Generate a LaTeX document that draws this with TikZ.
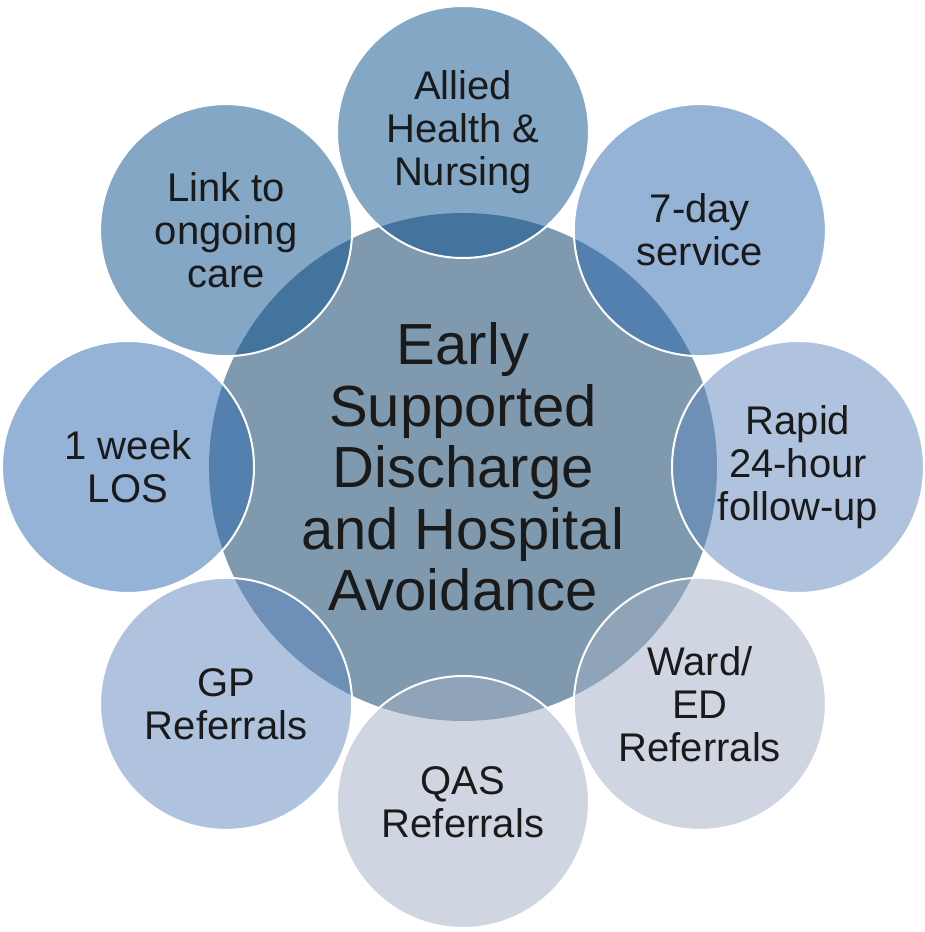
\documentclass[tikz,border=0pt]{standalone}
\usepackage{fontspec}
\setmainfont{Liberation Sans}
\definecolor{hubfill}{RGB}{127,154,175}
\definecolor{textcol}{RGB}{26,26,26}
\definecolor{spokeA}{RGB}{9,79,141}
\definecolor{spokeB}{RGB}{43,103,175}
\definecolor{spokeC}{RGB}{97,135,189}
\definecolor{spokeD}{RGB}{159,173,195}
\begin{document}
\begin{tikzpicture}[x=1pt,y=1pt,
  hubcircle/.style={circle, fill=hubfill, minimum size=508pt, inner sep=0pt,
    text=textcol, align=center, font=\fontsize{58}{61.5}\selectfont},
  spokecircle/.style={circle, fill=#1, fill opacity=0.5, text opacity=1,
    draw=white, draw opacity=1, line width=2pt, minimum size=252pt, inner sep=0pt,
    text=textcol, align=center, font=\fontsize{40}{43}\selectfont}]
\useasboundingbox (-463,-465) rectangle (462,467);

% central hub
\node[hubcircle] (hub) at (0,0) {Early\\Supported\\Discharge\\and Hospital\\Avoidance};

% ring of eight translucent satellites
\foreach \ang/\id/\col/\txt in {
    90/allied/spokeA/{Allied\\Health \&\\Nursing},
    45/sevenday/spokeB/{7-day\\service},
    0/rapid/spokeC/{Rapid\\24-hour\\follow-up},
    -45/ward/spokeD/{Ward/\\ED\\Referrals},
    -90/qas/spokeD/{QAS\\Referrals},
    -135/gp/spokeC/{GP\\Referrals},
    180/los/spokeB/{1 week\\LOS},
    135/link/spokeA/{Link to\\ongoing\\care}}
  \node[spokecircle=\col] (\id) at (\ang:335) {\txt};
\end{tikzpicture}
\end{document}
